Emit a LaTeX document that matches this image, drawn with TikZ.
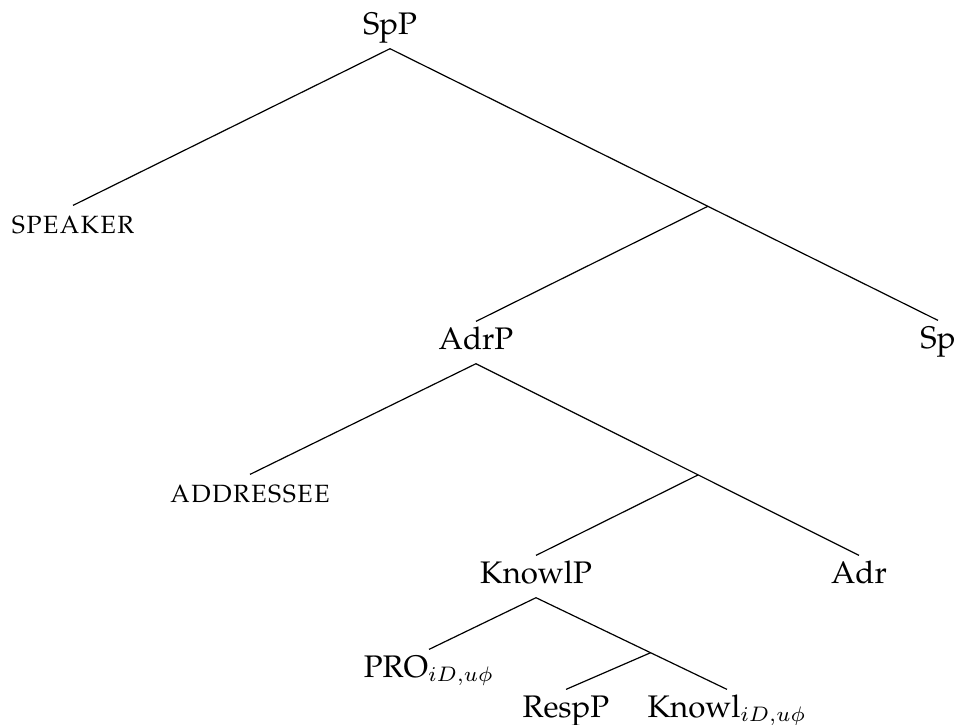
\documentclass[tikz,border=0pt]{standalone}
\usepackage[T1]{fontenc}
\usepackage{palatino}
\usepackage{tikz}
\usetikzlibrary{calc}

\begin{document}
\begin{tikzpicture}[
  x=0.3333pt,y=-0.3333pt,
  cat/.style={anchor=base,inner sep=1pt,text height=8pt,text depth=3.7pt,
              font=\fontsize{10.4pt}{12.5pt}\selectfont},
  branch/.style={line width=0.4pt}
]
\useasboundingbox (0,0) rectangle (958,725);
% nodes
\node[cat] (spp) at (390,34) {SpP};
\node[cat] (speaker) at (73,233) {\textsc{speaker}};
\node[cat] (adrp) at (476,349) {AdrP};
\node[cat] (sp) at (938,348) {Sp};
\node[cat] (addressee) at (250,502) {\textsc{addressee}};
\node[cat] (knowlp) at (536,583) {KnowlP};
\node[cat] (adr) at (859,583) {Adr};
\node[cat] (pro) at (429,677) {PRO$_{iD,u\phi}$};
\node[cat] (respp) at (566,717) {RespP};
\node[cat] (knowl) at (727,717) {Knowl$_{iD,u\phi}$};
% bar levels
\coordinate (spbar) at ($(spp.south)!0.58!(sp.north)$);
\coordinate (adrbar) at ($(adrp.south)!0.58!(adr.north)$);
\coordinate (knowlbar) at ($(knowlp.south)!0.6!(knowl.north)$);
% branches
\draw[branch] (spp.south) -- (speaker.north);
\draw[branch] (spp.south) -- (sp.north);
\draw[branch] (spbar) -- (adrp.north);
\draw[branch] (adrp.south) -- (addressee.north);
\draw[branch] (adrp.south) -- (adr.north);
\draw[branch] (adrbar) -- (knowlp.north);
\draw[branch] (knowlp.south) -- (pro.north);
\draw[branch] (knowlp.south) -- (knowl.north);
\draw[branch] (knowlbar) -- (respp.north);
\end{tikzpicture}
\end{document}
